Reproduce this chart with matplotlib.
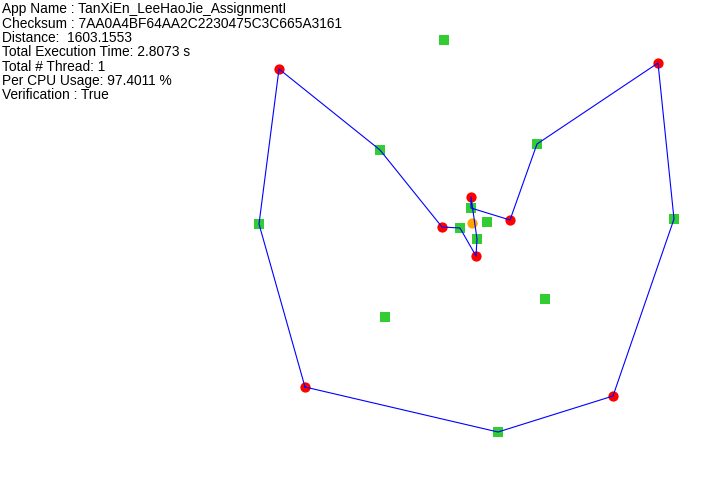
import matplotlib
matplotlib.use("Agg")
import matplotlib.pyplot as plt

# cities (red circles), in screen pixel coordinates of the picture
city_x = [279, 658, 510, 471, 442, 476, 305, 613]
city_y = [69, 63, 220, 197, 227, 256, 387, 396]

# green squares
sq_x = [444, 380, 537, 259, 674, 471, 487, 460, 477, 545, 385, 498]
sq_y = [40, 150, 144, 224, 219, 208, 222, 228, 239, 299, 317, 432]

# orange start point
start_x = [472]
start_y = [223]

# tour order (closed)
route_x = [305, 259, 279, 380, 442, 460, 476, 477, 471, 471, 510, 537, 658, 674, 613, 498, 305]
route_y = [387, 224, 69, 150, 227, 228, 256, 239, 197, 208, 220, 144, 63, 219, 396, 432, 387]

info = [
    "App Name : TanXiEn_LeeHaoJie_AssignmentI",
    "Checksum : 7AA0A4BF64AA2C2230475C3C665A3161",
    "Distance:  1603.1553",
    "Total Execution Time: 2.8073 s",
    "Total # Thread: 1",
    "Per CPU Usage: 97.4011 %",
    "Verification : True",
]

fig = plt.figure(figsize=(7.26, 5.0), dpi=100)
ax = fig.add_axes([0, 0, 1, 1])
ax.set_xlim(0, 726)
ax.set_ylim(500, 0)
ax.axis("off")

ax.plot(sq_x, sq_y, "s", color="#32cd32", markersize=7.4, markeredgewidth=0, zorder=2)
ax.plot(city_x, city_y, "o", color="red", markersize=7.4, markeredgewidth=0, zorder=2)
ax.plot(start_x, start_y, "o", color="orange", markersize=7.4, markeredgewidth=0, zorder=2)
ax.plot(route_x, route_y, "-", color="blue", linewidth=0.8, zorder=3)

for i, line in enumerate(info):
    ax.text(2, 13.5 + 14.3 * i, line, fontsize=9.9, family="Liberation Sans",
            va="baseline", ha="left", color="black")

fig.savefig("out.png", dpi=100)
